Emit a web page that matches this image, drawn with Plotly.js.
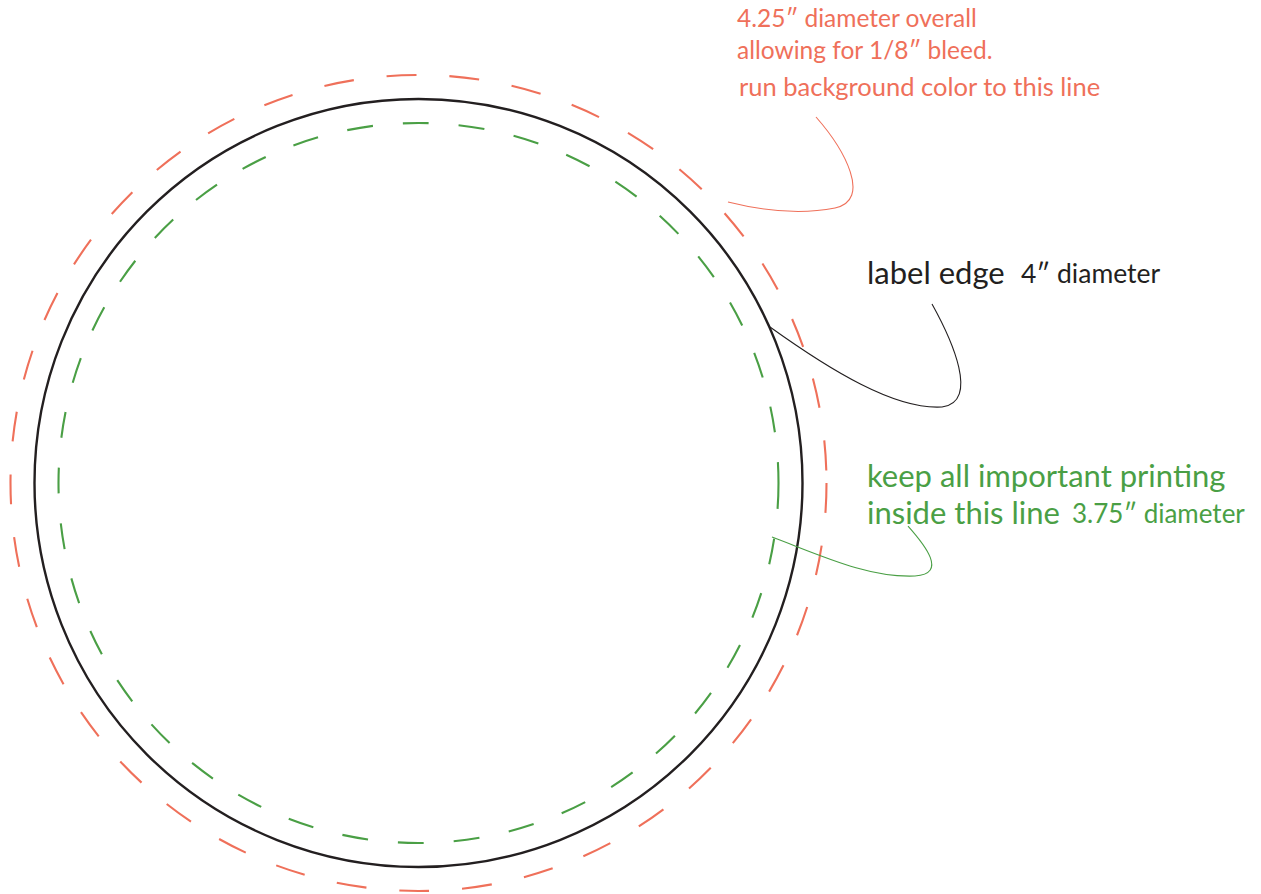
<!DOCTYPE html>
<html>
<head>
<meta charset="utf-8">
<script src="https://cdn.plot.ly/plotly-3.0.1.min.js"></script>
<style>html,body{margin:0;padding:0;background:#fff;overflow:hidden}#chart{width:1261px;height:894px}</style>
</head>
<body>
<div id="chart"></div>
<script>
// Data: diameters in inches
const circleNames = ["bleed", "label edge", "safe area"];
const diameters = [4.25, 4.0, 3.75];
const circleColors = ["#ef705a", "#231f20", "#4a9f45"];
const circleDash = ["30px,33px", "solid", "26px,30px"];
const labelLines = [
  "4.25\u2033 diameter overall",
  "allowing for 1/8\u2033 bleed.",
  "run background color to this line",
  "label edge",
  "4\u2033 diameter",
  "keep all important printing",
  "inside this line",
  "3.75\u2033 diameter"
];

const W = 1261, H = 894;
const cx = 418.5, cy = 483, scale = 192; // px per inch
const xr = [(0 - cx) / scale, (W - cx) / scale];
const yr = [-(H - cy) / scale, cy / scale];
function X(px) { return (px - cx) / scale; }
function Y(py) { return (cy - py) / scale; }
function path(pts) {
  let s = "";
  for (const p of pts) {
    if (typeof p === "string") s += p;
    else s += X(p[0]).toFixed(4) + "," + Y(p[1]).toFixed(4) + " ";
  }
  return s;
}

const shapes = diameters.map((d, i) => ({
  type: "circle", xref: "x", yref: "y",
  x0: -d / 2, x1: d / 2, y0: -d / 2, y1: d / 2,
  line: { color: circleColors[i], width: i === 1 ? 2.4 : 2.1, dash: circleDash[i] },
  fillcolor: "rgba(0,0,0,0)"
}));

// leader curves
shapes.push({ type: "path", xref: "x", yref: "y",
  path: path(["M", [816,117], "C", [845,150], [872,200], [835,208], "C", [800,215], [760,210], [728,202]]),
  line: { color: circleColors[0], width: 1.1 } });
shapes.push({ type: "path", xref: "x", yref: "y",
  path: path(["M", [932,304], "C", [952,340], [980,402], [942,407], "C", [895,410], [830,370], [770,327]]),
  line: { color: circleColors[1], width: 1.1 } });
shapes.push({ type: "path", xref: "x", yref: "y",
  path: path(["M", [908,526], "C", [925,545], [948,574], [915,576], "C", [868,578], [820,555], [772,537]]),
  line: { color: circleColors[2], width: 1.1 } });

const FONT = "Lato, 'Open Sans', sans-serif";
function ann(text, px, baseline, size, color) {
  return { text: text, xref: "x", yref: "y", x: X(px), y: Y(baseline - size * 0.33),
    xanchor: "left", yanchor: "middle", showarrow: false,
    font: { family: FONT, size: size, color: color } };
}
const annotations = [
  ann(labelLines[0], 735, 26, 24.5, "#ef705a"),
  ann(labelLines[1], 735, 58, 24.5, "#ef705a"),
  ann(labelLines[2], 737, 94, 25.5, "#ef705a"),
  ann(labelLines[3], 865, 282, 31, "#231f20"),
  ann(labelLines[4], 1019, 282, 26.5, "#231f20"),
  ann(labelLines[5], 865, 485, 31, "#4a9f45"),
  ann(labelLines[6], 865, 522, 31, "#4a9f45"),
  ann(labelLines[7], 1070, 522, 26, "#4a9f45")
];

const layout = {
  width: W, height: H,
  margin: { l: 0, r: 0, t: 0, b: 0, pad: 0 },
  paper_bgcolor: "#ffffff", plot_bgcolor: "#ffffff",
  xaxis: { range: xr, visible: false, fixedrange: true },
  yaxis: { range: yr, visible: false, fixedrange: true },
  showlegend: false,
  shapes: shapes,
  annotations: annotations
};
Plotly.newPlot("chart", [{ x: [], y: [], type: "scatter", mode: "lines", name: circleNames.join(",") }], layout, { displayModeBar: false, staticPlot: true });
</script>
</body>
</html>
